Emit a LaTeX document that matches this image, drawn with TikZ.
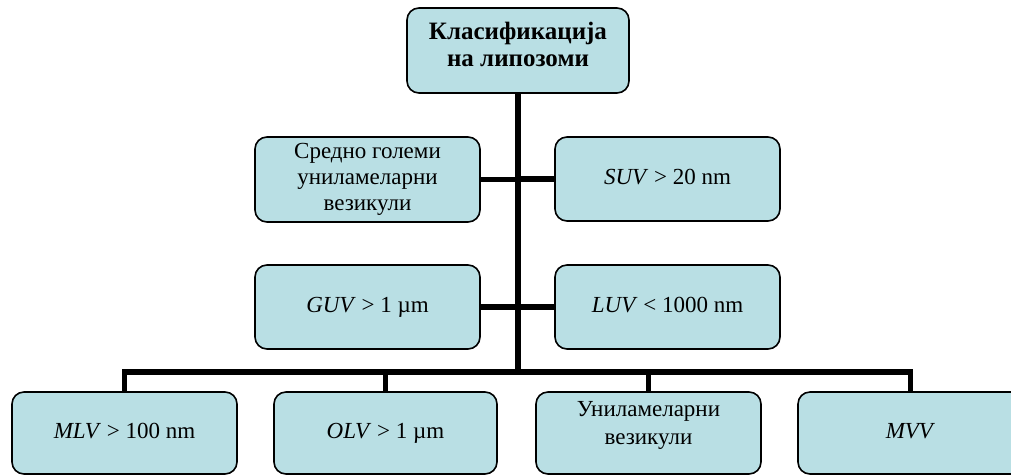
\documentclass[tikz,border=0pt]{standalone}
\usepackage{fontspec}
\setmainfont{Liberation Serif}
\usetikzlibrary{positioning}
\definecolor{boxfill}{RGB}{185,223,228}
\tikzset{
  lipbox/.style={draw=black, line width=1.6pt, fill=boxfill, rounded corners=12pt,
    minimum width=225pt, minimum height=84pt, inner sep=0pt, align=center,
    font=\fontsize{23}{26}\selectfont},
  branch/.style={line width=5.5pt},
}
\newcommand{\liftup}[2]{\raisebox{#1}[\height][\depth]{\begin{tabular}{@{}c@{}}#2\end{tabular}}}
\begin{document}
\begin{tikzpicture}[x=1pt,y=-1pt]
  \clip (0,0) rectangle (1011,475);
  \draw (518,50.5) node[lipbox, minimum width=222pt, minimum height=85pt,
        font=\fontsize{25}{27}\selectfont\bfseries] (klas)
        {\liftup{3pt}{Класификација\\на липозоми}};
  \draw (367.5,179.5) node[lipbox, minimum height=85pt] (sredno)
        {Средно големи\\униламеларни\\везикули};
  \draw (667.5,179) node[lipbox] (suv) {\strut\textit{SUV} > 20 nm};
  \draw (367.5,307) node[lipbox] (guv) {\strut\textit{GUV} > 1 µm};
  \draw (667.5,307) node[lipbox] (luv) {\strut\textit{LUV} < 1000 nm};
  \draw (124.5,433) node[lipbox, minimum height=82pt] (mlv) {\strut\textit{MLV} > 100 nm};
  \draw (385.5,433) node[lipbox, minimum width=223pt, minimum height=82pt] (olv) {\strut\textit{OLV} > 1 µm};
  \draw (648.5,433) node[lipbox, minimum height=82pt, font=\fontsize{23}{28}\selectfont] (uni)
        {\liftup{8pt}{Униламеларни\\везикули}};
  \draw (910.5,433) node[lipbox, minimum height=82pt] (mvv) {\strut\textit{MVV}};
  \coordinate (bus) at (517.5,372);
  \draw[branch] (klas.south) -- (klas.south |- bus);
  \draw[branch] (mlv.north) |- (bus) -| (mvv.north);
  \draw[branch] (olv.north) -- (olv.north |- bus);
  \draw[branch] (uni.north) -- (uni.north |- bus);
  \draw[branch] (sredno.east) -- (sredno.east -| bus);
  \draw[branch] (suv.west) -- (suv.west -| bus);
  \draw[branch] (guv.east) -- (guv.east -| bus);
  \draw[branch] (luv.west) -- (luv.west -| bus);
\end{tikzpicture}
\end{document}
